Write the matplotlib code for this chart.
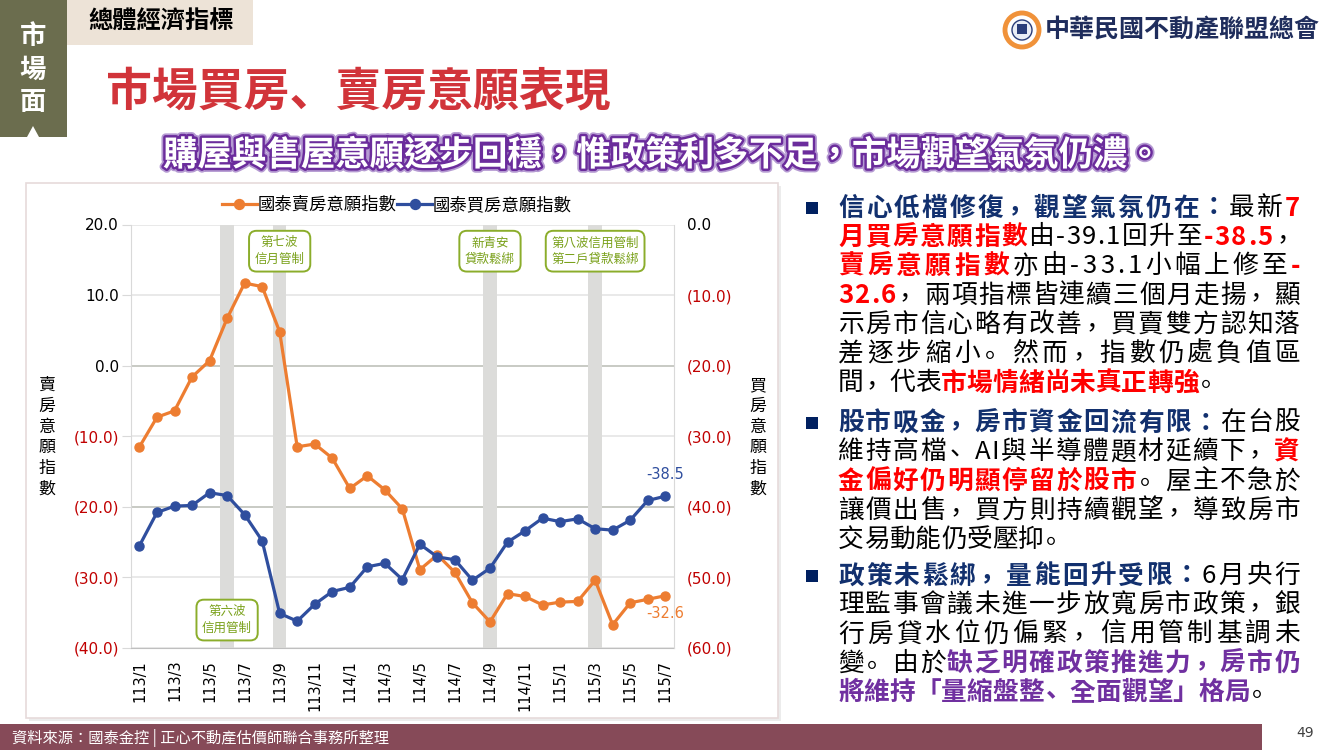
import numpy as np
import matplotlib
matplotlib.use('Agg')
import matplotlib.pyplot as plt
import matplotlib.patheffects as pe
import matplotlib.transforms as mtransforms
from matplotlib.patches import Rectangle, Circle, Polygon
from matplotlib.font_manager import FontProperties

W, H = 1330, 750
CJK = ['Noto Sans CJK TC', 'DejaVu Sans']
CJK_PUNCT = ['Noto Sans CJK JP', 'DejaVu Sans']  # comma/period sit low-left, as in the slide
plt.rcParams['font.family'] = CJK

# ---- data ----
months = ['113/1', '113/2', '113/3', '113/4', '113/5', '113/6', '113/7', '113/8',
          '113/9', '113/10', '113/11', '113/12', '114/1', '114/2', '114/3', '114/4',
          '114/5', '114/6', '114/7', '114/8', '114/9', '114/10', '114/11', '114/12',
          '115/1', '115/2', '115/3', '115/4', '115/5', '115/6', '115/7']
sell_idx = [-11.5, -7.3, -6.4, -1.6, 0.7, 6.7, 11.7, 11.2, 4.8, -11.5, -11.1, -13.1,
            -17.4, -15.6, -17.6, -20.3, -28.9, -26.8, -29.3, -33.6, -36.3, -32.3,
            -32.7, -33.9, -33.5, -33.4, -30.4, -36.7, -33.6, -33.1, -32.6]
buy_idx = [-45.5, -40.8, -39.9, -39.8, -38.0, -38.4, -41.1, -44.8, -55.1, -56.2,
           -53.8, -52.0, -51.4, -48.5, -48.0, -50.3, -45.3, -47.1, -47.5, -50.4,
           -48.7, -45.0, -43.4, -41.6, -42.1, -41.7, -43.1, -43.3, -41.9, -39.1, -38.5]
sell_name = '國泰賣房意願指數'
buy_name = '國泰買房意願指數'
left_ticks = [20, 10, 0, -10, -20, -30, -40]
right_ticks = [0, -10, -20, -30, -40, -50, -60]
band_months = ['113/6', '113/9', '114/9', '115/3']
band_notes = ['第六波\n信用管制', '第七波\n信月管制', '新青安\n貸款鬆綁', '第八波信用管制\n第二戶貸款鬆綁']
note_at_top = [False, True, True, True]

ORANGE = '#ed7d31'
BLUE = '#2f4e9e'
NAVY = '#12306e'
RED = '#ff0000'
PURPLE = '#7030a0'

# ---- right-hand text (segments: text, style) ----
para1 = [
    [('信心低檔修復，觀望氣氛仍在：', 'h'), ('最新', 'n'), ('7', 'r')],
    [('月買房意願指數', 'r'), ('由-39.1回升至', 'n'), ('-38.5', 'r'), ('，', 'n')],
    [('賣房意願指數', 'r'), ('亦由-33.1小幅上修至', 'n'), ('-', 'r')],
    [('32.6', 'r'), ('，兩項指標皆連續三個月走揚，顯', 'n')],
    [('示房市信心略有改善，買賣雙方認知落', 'n')],
    [('差逐步縮小。然而，指數仍處負值區', 'n')],
    [('間，代表', 'n'), ('市場情緒尚未真正轉強', 'r'), ('。', 'n')],
]
para2 = [
    [('股市吸金，房市資金回流有限：', 'h'), ('在台股', 'n')],
    [('維持高檔、AI與半導體題材延續下，', 'n'), ('資', 'r')],
    [('金偏好仍明顯停留於股市', 'r'), ('。屋主不急於', 'n')],
    [('讓價出售，買方則持續觀望，導致房市', 'n')],
    [('交易動能仍受壓抑。', 'n')],
]
para3 = [
    [('政策未鬆綁，量能回升受限：', 'h'), ('6月央行', 'n')],
    [('理監事會議未進一步放寬房市政策，銀', 'n')],
    [('行房貸水位仍偏緊，信用管制基調未', 'n')],
    [('變。由於', 'n'), ('缺乏明確政策推進力，房市仍', 'p')],
    [('將維持「量縮盤整、全面觀望」格局', 'p'), ('。', 'n')],
]
paras = [(para1, 208), (para2, 423), (para3, 576)]

fig = plt.figure(figsize=(W / 100, H / 100), dpi=100)
fig.patch.set_facecolor('white')

# background axes in pixel coordinates
bg = fig.add_axes([0, 0, 1, 1])
bg.set_xlim(0, W)
bg.set_ylim(H, 0)
bg.axis('off')
bg.set_zorder(-1)

# header
bg.add_patch(Rectangle((0, 0), 67, 137, color='#6b6d4e', lw=0))
for i, ch in enumerate('市場面'):
    bg.text(33, 37 + i * 33, ch, color='white', fontsize=19, fontweight='bold',
            ha='center', va='center')
bg.add_patch(Polygon([(27, 137), (39, 137), (33, 126)], color='white', lw=0))
bg.add_patch(Rectangle((67, 0), 186, 45, color='#ede3d7', lw=0))
bg.text(161, 22, '總體經濟指標', fontsize=17.5, fontweight='bold', color='black',
        ha='center', va='center')
bg.text(106, 92, '市場買房、賣房意願表現', fontsize=33, fontweight='bold',
        color='#d1343a', ha='left', va='center', family=CJK_PUNCT)
bg.text(163, 155, '購屋與售屋意願逐步回穩，惟政策利多不足，市場觀望氣氛仍濃。',
        fontsize=24.8, fontweight='bold', color='white', ha='left', va='center',
        path_effects=[pe.Stroke(linewidth=6, foreground='#b59ad2'),
                      pe.Stroke(linewidth=3.5, foreground='#6b2c9c'), pe.Normal()])

# logo
bg.add_patch(Circle((1022, 30), 17, fc='white', ec='#f0923a', lw=3.5))
bg.add_patch(Circle((1022, 30), 10, fc='#e9edf6', ec='#2a3d7a', lw=1))
bg.add_patch(Rectangle((1017, 24), 10, 10, fc='#2a3d7a', lw=0))
bg.text(1045, 30, '中華民國不動產聯盟總會', fontsize=18, fontweight='bold',
        color='#1f2d5c', ha='left', va='center')

# chart panel
bg.add_patch(Rectangle((29, 186), 752, 535, fc='#ececec', lw=0))
bg.add_patch(Rectangle((26, 183), 752, 535, fc='white', ec='#e6dada', lw=1.2))

# footer
bg.add_patch(Rectangle((0, 724), 1262, 26, color='#864a58', lw=0))
bg.text(12, 738, '資料來源：國泰金控 | 正心不動產估價師聯合事務所整理', fontsize=11,
        color='white', ha='left', va='center')
bg.text(1305, 733, '49', fontsize=10, color='#404040', ha='center', va='center',
        family='DejaVu Sans')

# vertical axis titles
for i, ch in enumerate('賣房意願指數'):
    bg.text(47, 385 + i * 20.8, ch, fontsize=12.2, ha='center', va='center')
for i, ch in enumerate('買房意願指數'):
    bg.text(758, 385 + i * 20.8, ch, fontsize=12.2, ha='center', va='center')

# ---- chart ----
ax = fig.add_axes([130.7 / W, 1 - 648 / H, (674 - 130.7) / W, (648 - 224.5) / H])
ax2 = ax.twinx()
x = np.arange(len(months))
ax.set_xlim(-0.5, len(months) - 0.5)
ax.set_ylim(-40, 20)
ax2.set_ylim(-60, 0)

for m in band_months:
    i = months.index(m)
    ax.axvspan(i - 0.38, i + 0.38, color='#dcdcda', lw=0, zorder=1)
for v in left_ticks:
    dark = v in (0, -20)
    ax.axhline(v, color='#b9bcb4' if dark else '#e3e3e3', lw=1.1, zorder=0.5)

l1, = ax.plot(x, sell_idx, color=ORANGE, lw=2.3, marker='o', ms=6.5, zorder=3)
l2, = ax2.plot(x, buy_idx, color=BLUE, lw=2.3, marker='o', ms=6.5, zorder=3)

for s in ['top', 'right']:
    ax.spines[s].set_visible(False)
for s in ['top', 'left', 'bottom']:
    ax2.spines[s].set_visible(False)
ax.spines['left'].set_color('#d9d9d9')
ax.spines['bottom'].set_color('#bfbfbf')
ax2.spines['right'].set_color('#d9d9d9')


def fmt(v):
    return f'{v:.1f}' if v >= 0 else f'({-v:.1f})'


ax.set_yticks(left_ticks, [fmt(v) for v in left_ticks])
ax2.set_yticks(right_ticks, [fmt(v) for v in right_ticks])
for a, ticks in [(ax, left_ticks), (ax2, right_ticks)]:
    for lbl, v in zip(a.get_yticklabels(), ticks):
        lbl.set_color('black' if v >= 0 else '#c00000')
ax.tick_params(axis='y', length=6.5, color='#d9d9d9', pad=2, labelsize=11,
               labelfontfamily='DejaVu Sans')
ax2.tick_params(axis='y', length=0, pad=9, labelsize=11, labelfontfamily='DejaVu Sans')
ax.set_xticks(x[::2], months[::2], rotation=90)
ax.tick_params(axis='x', length=0, pad=8.5, labelsize=10.5, labelfontfamily='DejaVu Sans')

trans = mtransforms.blended_transform_factory(ax2.transData, ax2.transAxes)
for m, note, top in zip(band_months, band_notes, note_at_top):
    ax2.text(months.index(m), 0.937 if top else 0.066, note, transform=trans,
             ha='center', va='center', fontsize=9, color='#7aa11b', linespacing=1.35,
             bbox=dict(boxstyle='round,pad=0.45,rounding_size=0.6', fc='white',
                       ec='#8bad2b', lw=1.4), zorder=5)

ax2.annotate(f'{buy_idx[-1]:.1f}', (x[-1], buy_idx[-1]), xytext=(0, 16),
             textcoords='offset points', ha='center', va='center', color=BLUE,
             fontsize=10.5, family='DejaVu Sans')
ax.annotate(f'{sell_idx[-1]:.1f}', (x[-1], sell_idx[-1]), xytext=(0, -12.5),
            textcoords='offset points', ha='center', va='center', color=ORANGE,
            fontsize=10.5, family='DejaVu Sans')

ax.legend([l1, l2], [sell_name, buy_name], loc='center',
          bbox_to_anchor=(397 / W, 1 - 205 / H), bbox_transform=fig.transFigure,
          ncol=2, frameon=False, fontsize=12.5, handlelength=2.0, handletextpad=0.05,
          columnspacing=0.05, markerscale=1.1)

# ---- justified right-hand text ----
BODY = 18.5
LEFT, RIGHT = 838, 1300
STEP = 29.2
styles = {
    'h': (NAVY, 'bold'),
    'n': ('black', 'normal'),
    'r': (RED, 'bold'),
    'p': (PURPLE, 'bold'),
}
renderer = fig.canvas.get_renderer()
_adv_cache = {}


def family_for(ch):
    return CJK_PUNCT if ch in '，。、' else CJK


def advance(ch, weight):
    key = (ch, weight)
    if key not in _adv_cache:
        prop = FontProperties(family=family_for(ch), weight=weight, size=BODY)
        w1 = renderer.get_text_width_height_descent('中' + ch + '中', prop, ismath=False)[0]
        w0 = renderer.get_text_width_height_descent('中中', prop, ismath=False)[0]
        _adv_cache[key] = w1 - w0
    return _adv_cache[key]


for lines, y0 in paras:
    bg.add_patch(Rectangle((806, y0 - 6), 12, 12, color='#002060', lw=0))
    for li, segs in enumerate(lines):
        y = y0 + li * STEP
        glyphs = []
        for text, st in segs:
            color, weight = styles[st]
            for ch in text:
                glyphs.append((ch, color, weight, advance(ch, weight)))
        total = sum(g[3] for g in glyphs)
        last = li == len(lines) - 1
        gap = 0 if last else (RIGHT - LEFT - total) / (len(glyphs) - 1)
        xp = LEFT
        for ch, color, weight, w in glyphs:
            if ch in '，。、':
                # punctuation ink sits in the lower-left of its cell
                bg.text(xp + 2, y + 9, ch, fontsize=BODY, fontweight=weight,
                        color=color, ha='left', va='bottom', family=CJK_PUNCT)
            else:
                bg.text(xp + w / 2, y, ch, fontsize=BODY, fontweight=weight,
                        color=color, ha='center', va='center')
            xp += w + gap

fig.savefig('out.png', dpi=100, facecolor='white')
